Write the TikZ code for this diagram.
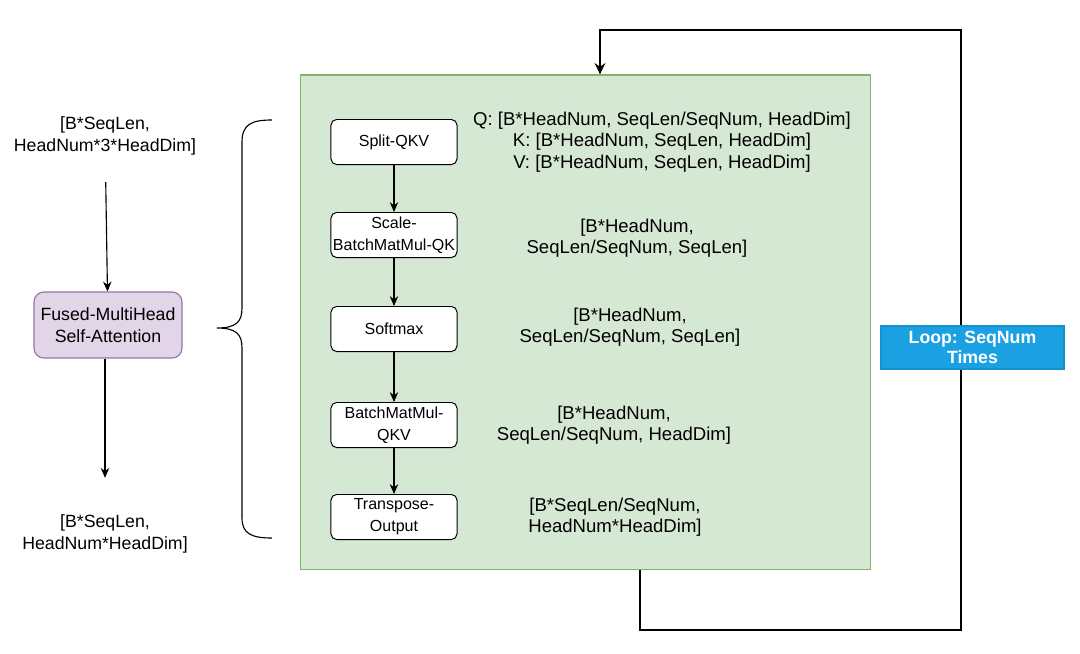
\documentclass[tikz,border=0pt]{standalone}
\usepackage{fontspec}
\setmainfont{Liberation Sans}
\usepackage{tikz}
\usetikzlibrary{arrows.meta,positioning,calc}
\definecolor{blockfill}{HTML}{D5E8D4}
\definecolor{blockline}{HTML}{82B366}
\definecolor{fusedfill}{HTML}{E1D5E7}
\definecolor{fusedline}{HTML}{9673A6}
\definecolor{loopfill}{HTML}{1BA1E2}
\definecolor{loopline}{HTML}{1590D0}
\tikzset{
    opBox/.style={
        draw=black,
        fill=white,
        rounded corners=4pt,
        line width=0.7pt,
        minimum width=3.15cm,
        minimum height=1.125cm,
        inner sep=1pt,
        align=center,
        font=\fontsize{11.4}{15.5}\selectfont
    },
    dimText/.style={
        align=center,
        font=\fontsize{13.2}{15.3}\selectfont
    },
    sideText/.style={
        align=center,
        font=\fontsize{12.6}{15.6}\selectfont
    },
    flow/.style={
        -{Stealth[length=7pt,width=6pt]},
        line width=0.8pt
    },
}

\begin{document}
\begin{tikzpicture}[x=0.025cm, y=-0.025cm,
    loopPath/.style={line width=1.4pt, -{Stealth[length=8pt,width=7.5pt]}},
    fusedBox/.style={draw=fusedline, fill=fusedfill, rounded corners=7pt, line width=0.8pt,
        minimum width=3.7cm, minimum height=1.65cm, align=center, font=\fontsize{12.6}{15.6}\selectfont},
    loopLabel/.style={draw=loopline, fill=loopfill, line width=0.8pt, minimum width=4.575cm,
        minimum height=1.075cm, inner sep=1pt, align=center, text=white,
        font=\fontsize{12.6}{14.5}\selectfont\bfseries}
]
    \useasboundingbox (0,0) rectangle (1080,653);

    % Green block holding the attention steps
    \node[draw=blockline, fill=blockfill, line width=0.8pt, minimum width=14.225cm, minimum height=12.35cm] (block) at (585.5,322) {};

    % Left side: fused op with its shapes
    \node[sideText] (inshape) at (105,136) {[B*SeqLen,\\HeadNum*3*HeadDim]};
    \node[fusedBox] (fused) at (108,325) {Fused-MultiHead\\Self-Attention};
    \node[sideText] (outshape) at (105,534) {[B*SeqLen,\\HeadNum*HeadDim]};
    \draw[flow, shorten <=0.55cm] (inshape) -- (fused);
    \draw[flow, shorten >=0.8cm] (fused.south -| 105,0) -- (outshape.north -| 105,0);

    % Brace
    \draw[line width=0.8pt] (272,120) .. controls (252,120) and (242,124) .. (242,142) -- (242,308)
        .. controls (242,322) and (236,328) .. (217,328)
        .. controls (236,328) and (242,334) .. (242,348) -- (242,518)
        .. controls (242,534) and (252,538) .. (272,538);

    % Steps
    \node[opBox] (splitqkv) at (394,142) {Split-QKV};
    \node[opBox] (scaleqk) at (394,235) {Scale-\\BatchMatMul-QK};
    \node[opBox] (softmax) at (394,329) {Softmax};
    \node[opBox] (bmmqkv) at (394,425) {BatchMatMul-\\QKV};
    \node[opBox] (transout) at (394,517) {Transpose-\\Output};

    \draw[flow] (splitqkv) -- (scaleqk);
    \draw[flow] (scaleqk) -- (softmax);
    \draw[flow] (softmax) -- (bmmqkv);
    \draw[flow] (bmmqkv) -- (transout);

    % Shapes next to each step
    \node[dimText] (qkvdim) at (662,142) {Q: [B*HeadNum, SeqLen/SeqNum, HeadDim]\\K: [B*HeadNum, SeqLen, HeadDim]\\V: [B*HeadNum, SeqLen, HeadDim]};
    \node[dimText] (scaledim) at (637,238) {[B*HeadNum,\\SeqLen/SeqNum, SeqLen]};
    \node[dimText] (softdim) at (630,327) {[B*HeadNum,\\SeqLen/SeqNum, SeqLen]};
    \node[dimText] (bmmdim) at (614,425) {[B*HeadNum,\\SeqLen/SeqNum, HeadDim]};
    \node[dimText] (transdim) at (615,517) {[B*SeqLen/SeqNum,\\HeadNum*HeadDim]};

    % Loop back
    \coordinate (loopBR) at (961,630);
    \coordinate (loopTR) at (961,30);
    \draw[loopPath] ($(block.south)+(54.5,0)$) |- (loopBR) -- (loopTR) -| ($(block.north)+(14.5,0)$);
    \node[loopLabel] (loop) at (972.5,347.5) {Loop: SeqNum\\Times};

\end{tikzpicture}
\end{document}
